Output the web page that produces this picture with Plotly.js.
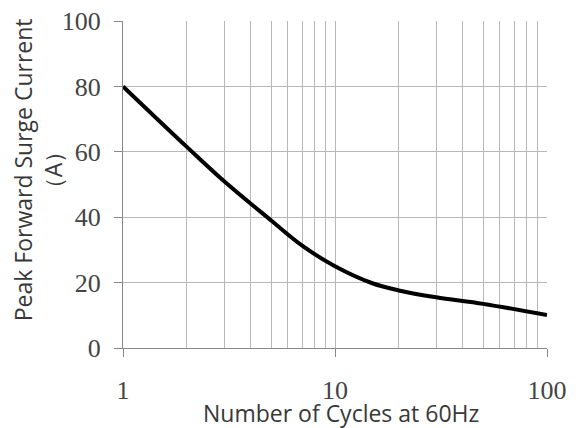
<!DOCTYPE html>
<html>
<head>
<meta charset="utf-8">
<script src="https://cdn.plot.ly/plotly-3.0.1.min.js"></script>
<style>html,body{margin:0;padding:0;background:#fff;}#chart{width:582px;height:428px;}</style>
</head>
<body>
<div id="chart"></div>
<script>
const cycles = [1, 2, 3, 5, 7, 10, 15, 20, 30, 50, 100];
const surgeCurrent = [80, 61.5, 51, 39, 31.3, 25, 19.8, 17.6, 15.5, 13.5, 10.1];
const xMajorTicks = [1, 10, 100];
const xMajorLabels = ['1', '10', '100'];
const xMinorTicks = [2, 3, 4, 5, 6, 7, 8, 9, 20, 30, 40, 50, 60, 70, 80, 90];
const yTicks = [0, 20, 40, 60, 80, 100];
const xTitle = 'Number of Cycles at 60Hz';
const yTitle = 'Peak Forward Surge Current<br>（A）';

const gridCol = '#b8b8b8';
const tickFont = {family: 'Liberation Serif, serif', size: 26, color: '#444'};
const titleFont = {family: 'Open Sans, sans-serif', size: 23, color: '#383838'};

const trace = {
  x: cycles, y: surgeCurrent, type: 'scatter', mode: 'lines',
  line: {color: '#000', width: 4, shape: 'spline', smoothing: 1},
  hoverinfo: 'skip'
};

const layout = {
  width: 582, height: 428,
  margin: {l: 123, r: 35, t: 21, b: 80, pad: 0},
  paper_bgcolor: '#fff', plot_bgcolor: '#fff',
  showlegend: false,
  xaxis: {
    type: 'log', range: [0, 2],
    tickmode: 'array', tickvals: xMajorTicks, ticktext: xMajorLabels,
    ticks: 'outside', ticklen: 8, tickcolor: '#888', tickwidth: 1,
    tickfont: tickFont, ticklabelstandoff: 11,
    showgrid: true, gridcolor: gridCol, gridwidth: 1,
    minor: {tickmode: 'array', tickvals: xMinorTicks, showgrid: true, gridcolor: gridCol, gridwidth: 1, ticks: ''},
    showline: true, linecolor: '#888', linewidth: 1,
    zeroline: false, fixedrange: true
  },
  yaxis: {
    range: [0, 100],
    tickmode: 'array', tickvals: yTicks,
    ticks: 'outside', ticklen: 8, tickcolor: '#888', tickwidth: 1,
    tickfont: tickFont, ticklabelstandoff: 8,
    showgrid: true, gridcolor: gridCol, gridwidth: 1,
    showline: true, linecolor: '#888', linewidth: 1,
    zeroline: false, fixedrange: true
  },
  annotations: [
    {text: xTitle, xref: 'paper', yref: 'paper', x: 0.513, y: -0.145, xanchor: 'center', yanchor: 'top',
     showarrow: false, font: titleFont},
    {text: yTitle, xref: 'paper', yref: 'paper', x: -0.2, y: 0.544, xanchor: 'center', yanchor: 'middle',
     textangle: -90, showarrow: false, font: titleFont}
  ]
};

Plotly.newPlot('chart', [trace], layout, {staticPlot: true, displayModeBar: false});
</script>
</body>
</html>
